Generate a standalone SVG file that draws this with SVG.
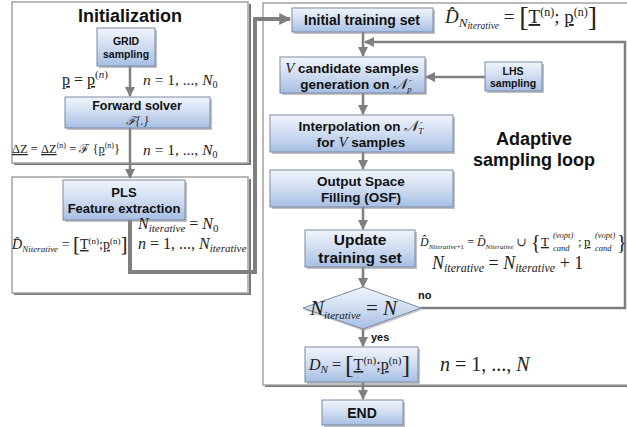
<svg xmlns="http://www.w3.org/2000/svg" width="627" height="427" viewBox="0 0 627 427">
<defs>
<linearGradient id="bx" x1="0" y1="0" x2="0" y2="1">
<stop offset="0" stop-color="#f1f5fc"/>
<stop offset="0.5" stop-color="#cfdcf1"/>
<stop offset="1" stop-color="#a6bfe4"/>
</linearGradient>
<marker id="ah" viewBox="0 0 10 10" refX="9" refY="5" markerWidth="4" markerHeight="4" orient="auto" markerUnits="strokeWidth">
<path d="M0,0 L10,5 L0,10 z" fill="#7f7f7f"/>
</marker>
<marker id="ahb" viewBox="0 0 10 10" refX="9" refY="5" markerWidth="3" markerHeight="3.2" orient="auto" markerUnits="strokeWidth">
<path d="M0,0 L10,5 L0,10 z" fill="#7f7f7f"/>
</marker>
</defs>
<style>
.panel{fill:#fff;stroke:#a3a3a3;stroke-width:1.5}
.pshadow{fill:none;stroke:#777;stroke-width:2}
.box{fill:url(#bx);stroke:#7b8aa3;stroke-width:1}
.bshadow{fill:#8f8f8f;opacity:0.55}
.t{font-family:"Liberation Sans",Arial,sans-serif;font-weight:bold;fill:#111;text-anchor:middle}
.h{font-family:"Liberation Sans",Arial,sans-serif;font-weight:bold;fill:#111;font-size:18px;text-anchor:middle}
.m{font-family:"Liberation Serif","DejaVu Serif",serif;fill:#222}
.i{font-style:italic}
.u{text-decoration:underline}
.u2{text-decoration:underline double}
.c{fill:none;stroke:#7f7f7f;stroke-width:2.5}
.ck{fill:none;stroke:#7f7f7f;stroke-width:4}
.lbl{font-family:"Liberation Sans",Arial,sans-serif;font-weight:bold;font-size:11px;fill:#111}
</style>

<!-- panels -->
<g id="panel-init">
<path class="pshadow" d="M250,4 V164 H14"/>
<rect class="panel" x="12" y="2" width="236" height="161"/>
<text class="h" x="130" y="22">Initialization</text>
</g>
<g id="panel-pls">
<path class="pshadow" d="M250,179 V294 H14"/>
<rect class="panel" x="12" y="177" width="236" height="116"/>
</g>
<g id="panel-loop">
<path class="pshadow" d="M265,386 H640"/>
<rect class="panel" x="263" y="3" width="380" height="382"/>
<text class="h" x="534" y="145">Adaptive</text>
<text class="h" x="534" y="166">sampling loop</text>
</g>

<!-- connectors -->
<g id="connectors">
<line class="c" x1="130" y1="66" x2="130" y2="96" marker-end="url(#ah)"/>
<line class="c" x1="130" y1="128" x2="130" y2="178" marker-end="url(#ah)"/>
<path class="ck" d="M130,220 V272 H255 V19 H290" marker-end="url(#ahb)"/>
<line class="c" x1="363" y1="32" x2="363" y2="56" marker-end="url(#ah)"/>
<path class="c" d="M421,308 H625 V42 H365" marker-end="url(#ah)"/>
<line class="c" x1="485" y1="77" x2="426" y2="77" marker-end="url(#ah)"/>
<line class="c" x1="363" y1="93" x2="363" y2="114" marker-end="url(#ah)"/>
<line class="c" x1="363" y1="152" x2="363" y2="169" marker-end="url(#ah)"/>
<line class="c" x1="363" y1="207" x2="363" y2="229" marker-end="url(#ah)"/>
<line class="c" x1="363" y1="267" x2="363" y2="287" marker-end="url(#ah)"/>
<line class="c" x1="363" y1="329" x2="363" y2="346" marker-end="url(#ah)"/>
<line class="c" x1="363" y1="382" x2="363" y2="399" marker-end="url(#ah)"/>
<text class="lbl" x="418" y="299">no</text>
<text class="lbl" x="371" y="341">yes</text>
</g>

<!-- left nodes -->
<g id="grid">
<rect class="bshadow" x="99" y="30" width="58" height="38"/>
<rect class="box" x="97" y="28" width="58" height="38"/>
<text class="t" x="126" y="45" font-size="10.5">GRID</text>
<text class="t" x="126" y="58" font-size="10.5">sampling</text>
</g>
<g id="forward">
<rect class="bshadow" x="67" y="99" width="145" height="31"/>
<rect class="box" x="65" y="97" width="145" height="31"/>
<text class="t" x="137" y="110" font-size="12.5">Forward solver</text>
<text class="m i" x="137" y="125" font-size="12" text-anchor="middle">ℱ{.}</text>
</g>
<g id="pls">
<rect class="bshadow" x="65" y="182" width="122" height="40"/>
<rect class="box" x="63" y="180" width="122" height="40"/>
<text class="t" x="124" y="197" font-size="13">PLS</text>
<text class="t" x="124" y="213" font-size="13">Feature extraction</text>
</g>

<!-- left formulas -->
<g id="f-left">
<text class="m" x="62" y="85" font-size="16"><tspan class="u2">p</tspan> = <tspan class="u2">p</tspan><tspan font-size="11" dy="-7">(<tspan class="i">n</tspan>)</tspan></text>
<text class="m" x="143" y="85" font-size="15.5"><tspan class="i">n</tspan> = 1, ..., <tspan class="i">N</tspan><tspan font-size="10" dy="3">0</tspan></text>
<text class="m" x="12" y="153" font-size="12.5"><tspan class="u2">ΔZ</tspan> = <tspan class="u">ΔZ</tspan><tspan font-size="8" dy="-5">(n)</tspan><tspan dy="5"> = ℱ {</tspan><tspan class="u">p</tspan><tspan font-size="8" dy="-5">(n)</tspan><tspan dy="5">}</tspan></text>
<text class="m" x="143" y="155" font-size="15.5"><tspan class="i">n</tspan> = 1, ..., <tspan class="i">N</tspan><tspan font-size="10" dy="3">0</tspan></text>
<text class="m" x="12" y="249" font-size="14"><tspan class="i">D̂</tspan><tspan class="i" font-size="9" dy="3">Niterative</tspan><tspan dy="-3"> = </tspan><tspan font-size="21" dy="2">[</tspan><tspan class="u" dy="-2">T</tspan><tspan font-size="9" dy="-5">(n)</tspan><tspan dy="5">;</tspan><tspan class="u">p</tspan><tspan font-size="9" dy="-5">(n)</tspan><tspan font-size="21" dy="7">]</tspan></text>
<text class="m" x="138" y="229" font-size="16"><tspan class="i">N</tspan><tspan class="i" font-size="11" dy="3">iterative</tspan><tspan dy="-3"> = </tspan><tspan class="i">N</tspan><tspan font-size="11" dy="3">0</tspan></text>
<text class="m" x="138" y="249" font-size="16"><tspan class="i">n</tspan> = 1, ..., <tspan class="i">N</tspan><tspan class="i" font-size="11" dy="3">iterative</tspan></text>
</g>

<!-- right nodes -->
<g id="initial">
<rect class="bshadow" x="294" y="10" width="141" height="24"/>
<rect class="box" x="292" y="8" width="141" height="24"/>
<text class="t" x="362" y="25" font-size="14">Initial training set</text>
</g>
<g id="vcand">
<rect class="bshadow" x="282" y="59" width="145" height="36"/>
<rect class="box" x="280" y="57" width="145" height="36"/>
<text class="t" x="352" y="73" font-size="13.5"><tspan class="m i" font-weight="normal" font-size="15">V</tspan> candidate samples</text>
<text class="t" x="356" y="89" font-size="13.5">generation on <tspan class="m i" font-weight="normal" font-size="15">𝒩</tspan><tspan class="m i" font-weight="normal" font-size="9" dy="3">p</tspan></text>
</g>
<g id="lhs">
<rect class="bshadow" x="487" y="64" width="57" height="29"/>
<rect class="box" x="485" y="62" width="57" height="29"/>
<text class="t" x="513" y="75" font-size="10.5">LHS</text>
<text class="t" x="513" y="87" font-size="10.5">sampling</text>
</g>
<g id="interp">
<rect class="bshadow" x="272" y="117" width="183" height="37"/>
<rect class="box" x="270" y="115" width="183" height="37"/>
<text class="t" x="361" y="131" font-size="13.5">Interpolation on <tspan class="m i" font-weight="normal" font-size="15">𝒩</tspan><tspan class="m i" font-weight="normal" font-size="9" dy="3">T</tspan></text>
<text class="t" x="361" y="147" font-size="13.5">for <tspan class="m i" font-weight="normal" font-size="15">V</tspan> samples</text>
</g>
<g id="osf">
<rect class="bshadow" x="272" y="172" width="183" height="37"/>
<rect class="box" x="270" y="170" width="183" height="37"/>
<text class="t" x="361" y="186" font-size="13.5">Output Space</text>
<text class="t" x="361" y="202" font-size="13.5">Filling (OSF)</text>
</g>
<g id="update">
<rect class="bshadow" x="307" y="232" width="110" height="37"/>
<rect class="box" x="305" y="230" width="110" height="37"/>
<text class="t" x="360" y="245" font-size="15.5">Update</text>
<text class="t" x="360" y="263" font-size="15.5">training set</text>
</g>
<g id="decision">
<polygon points="363,287 421,308 363,329 303,308" fill="#8f8f8f" opacity="0.5" transform="translate(1,2)"/>
<polygon class="box" points="363,287 421,308 363,329 303,308"/>
<text class="m" x="310" y="315" font-size="21"><tspan class="i">N</tspan><tspan class="i" font-size="11" dy="4">iterative</tspan><tspan dy="-4"> = </tspan><tspan class="i">N</tspan></text>
</g>
<g id="dn">
<rect class="bshadow" x="307" y="349" width="113" height="35"/>
<rect class="box" x="305" y="347" width="113" height="35"/>
<text class="m" x="309" y="370" font-size="16"><tspan class="i">D</tspan><tspan class="i" font-size="11" dy="3">N</tspan><tspan dy="-3"> = </tspan><tspan font-size="26" dy="3">[</tspan><tspan class="u" dy="-3">T</tspan><tspan font-size="11" dy="-6">(n)</tspan><tspan dy="6">;</tspan><tspan class="u">p</tspan><tspan font-size="11" dy="-6">(n)</tspan><tspan font-size="26" dy="9">]</tspan></text>
</g>
<g id="end">
<rect class="bshadow" x="324" y="402" width="81" height="25"/>
<rect class="box" x="322" y="400" width="81" height="25"/>
<text class="t" x="362" y="418" font-size="14">END</text>
</g>

<!-- right formulas -->
<g id="f-right">
<text class="m" x="445" y="23" font-size="19"><tspan class="i">D̂</tspan><tspan class="i" font-size="13" dy="4">N</tspan><tspan class="i" font-size="9.5" dy="2">iterative</tspan><tspan dy="-6"> = </tspan><tspan font-size="28" dy="3">[</tspan><tspan class="u" dy="-3">T</tspan><tspan font-size="12" dy="-7">(n)</tspan><tspan dy="7">; </tspan><tspan class="u">p</tspan><tspan font-size="12" dy="-7">(n)</tspan><tspan font-size="28" dy="10">]</tspan></text>
<text class="m" x="420" y="246" font-size="12"><tspan class="i">D̂</tspan><tspan class="i" font-size="7" dy="3">Niterative</tspan><tspan font-size="7">+1</tspan><tspan dy="-3"> = </tspan><tspan class="i">D̂</tspan><tspan class="i" font-size="7" dy="3">Niterative</tspan><tspan dy="-3"> ∪</tspan></text>
<text class="m" x="531" y="249" font-size="20">{</text>
<text class="m u" x="541" y="246" font-size="13">T</text>
<text class="m i" x="553" y="238" font-size="8.5">(vopt)</text>
<text class="m i" x="553" y="251" font-size="8.5">cand</text>
<text class="m" x="578" y="246" font-size="13">;</text>
<text class="m u" x="584" y="246" font-size="13">p</text>
<text class="m i" x="595" y="238" font-size="8.5">(vopt)</text>
<text class="m i" x="595" y="251" font-size="8.5">cand</text>
<text class="m" x="617" y="249" font-size="20">}</text>
<text class="m" x="432" y="269" font-size="18"><tspan class="i">N</tspan><tspan class="i" font-size="12" dy="3">iterative</tspan><tspan dy="-3"> = </tspan><tspan class="i">N</tspan><tspan class="i" font-size="12" dy="3">iterative</tspan><tspan dy="-3"> + 1</tspan></text>
<text class="m" x="440" y="371" font-size="20"><tspan class="i">n</tspan> = 1, ..., <tspan class="i">N</tspan></text>
</g>
</svg>
